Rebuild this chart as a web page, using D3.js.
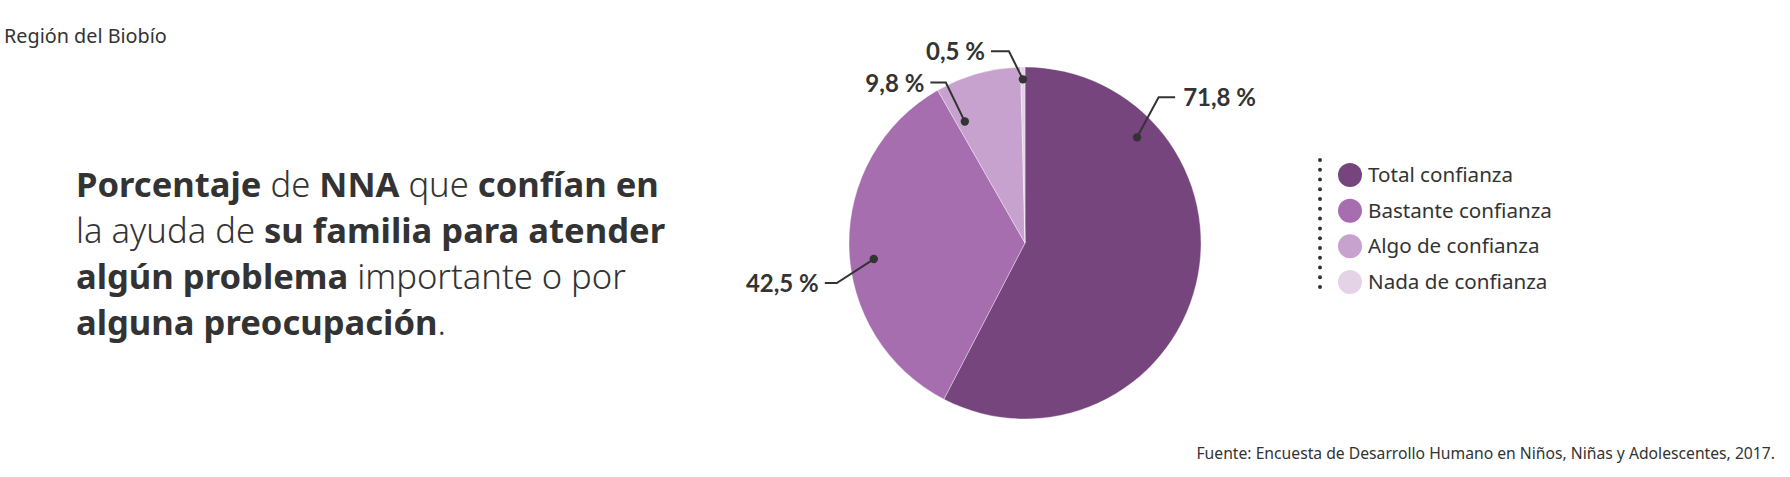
<!DOCTYPE html>
<html><head><meta charset="utf-8">
<script src="https://cdn.jsdelivr.net/npm/d3@7"></script>
<style>
html,body{margin:0;padding:0;background:#fff;}
svg{display:block;font-family:"Noto Sans", Lato, sans-serif;}
</style></head>
<body>
<svg id="chart" width="1790" height="477"></svg>
<script>
// ---- data ----
const categories = ["Total confianza", "Bastante confianza", "Algo de confianza", "Nada de confianza"];
const values = [71.8, 42.5, 9.8, 0.5];
const colors = ["#76457e", "#a66daf", "#c8a2ce", "#e4d3e7"];
const region = "Región del Biobío";
const source = "Fuente: Encuesta de Desarrollo Humano en Niños, Niñas y Adolescentes, 2017.";
const headingLines = [
  [["Porcentaje", 700], [" de ", 300], ["NNA", 700], [" que ", 300], ["confían en", 700]],
  [["la ayuda de ", 300], ["su familia para atender", 700]],
  [["algún problema", 700], [" importante o por", 300]],
  [["alguna preocupación", 700], [".", 300]]
];

// ---- layout (not data) ----
const W = 1790, H = 477;
const cx = 1025, cy = 243, R = 176;
const labelLayout = [
  {t: 0.225, rf: 0.875, ex: 21.6, ey: -40, run: 16.5},
  {t: 0.46,  rf: 0.864, ex: -37,  ey: 24,  run: -12},
  {t: 0.12,  rf: 0.77,  ex: -19,  ey: -39, run: -15.5},
  {t: 0.5,   rf: 0.93,  ex: -14,  ey: -28, run: -18}
];
const textCol = "#333333";

const svg = d3.select("#chart");

svg.append("text").attr("x", 4).attr("y", 43)
  .attr("font-size", 19.8).attr("fill", textCol).text(region);

const head = svg.append("g");
headingLines.forEach((line, i) => {
  const t = head.append("text").attr("x", 76).attr("y", 197 + i * 46)
    .attr("font-size", 34.6).attr("fill", textCol);
  line.forEach(([s, w]) => t.append("tspan").attr("font-weight", w).text(s));
});

const pie = d3.pie().sort(null).value(d => d);
const arcs = pie(values);
const arc = d3.arc().innerRadius(0).outerRadius(R);
const g = svg.append("g").attr("transform", `translate(${cx},${cy})`);
g.selectAll("path").data(arcs).join("path")
  .attr("d", arc).attr("fill", (d, i) => colors[i])
  .attr("stroke", "#fff").attr("stroke-width", 0.6).attr("stroke-opacity", 0.6);

const fmt = v => v.toFixed(1).replace(".", ",") + " %";
arcs.forEach((a, i) => {
  const L = labelLayout[i];
  const ang = a.startAngle + (a.endAngle - a.startAngle) * L.t;
  const r = R * L.rf;
  const x0 = Math.sin(ang) * r, y0 = -Math.cos(ang) * r;
  const x1 = x0 + L.ex, y1 = y0 + L.ey;
  const x2 = x1 + L.run;
  g.append("path").attr("d", `M${x0},${y0}L${x1},${y1}L${x2},${y1}`)
    .attr("fill", "none").attr("stroke", textCol).attr("stroke-width", 2);
  g.append("circle").attr("cx", x0).attr("cy", y0).attr("r", 4.2).attr("fill", textCol);
  const right = L.run > 0;
  g.append("text").attr("x", x2 + (right ? 8 : -6)).attr("y", y1 + 9)
    .attr("text-anchor", right ? "start" : "end")
    .style("font-family", "Lato, sans-serif")
    .attr("font-size", 24).attr("font-weight", 700).attr("fill", textCol)
    .text(fmt(values[i]));
});

const lg = svg.append("g");
const ly = d3.scalePoint().domain(categories).range([175, 282]);
const dotY = d3.range(14).map(k => 160 + k * (127 / 13));
lg.selectAll("circle.dot").data(dotY).join("circle").attr("class", "dot")
  .attr("cx", 1320).attr("cy", d => d).attr("r", 2).attr("fill", textCol);
categories.forEach((c, i) => {
  lg.append("circle").attr("cx", 1350).attr("cy", ly(c)).attr("r", 12).attr("fill", colors[i]);
  lg.append("text").attr("x", 1368).attr("y", ly(c) + 7)
    .attr("font-size", 20.6).attr("fill", textCol).text(c);
});

svg.append("text").attr("x", 1775).attr("y", 459).attr("text-anchor", "end")
  .attr("font-size", 15.7).attr("fill", textCol).text(source);
</script>
</body></html>
